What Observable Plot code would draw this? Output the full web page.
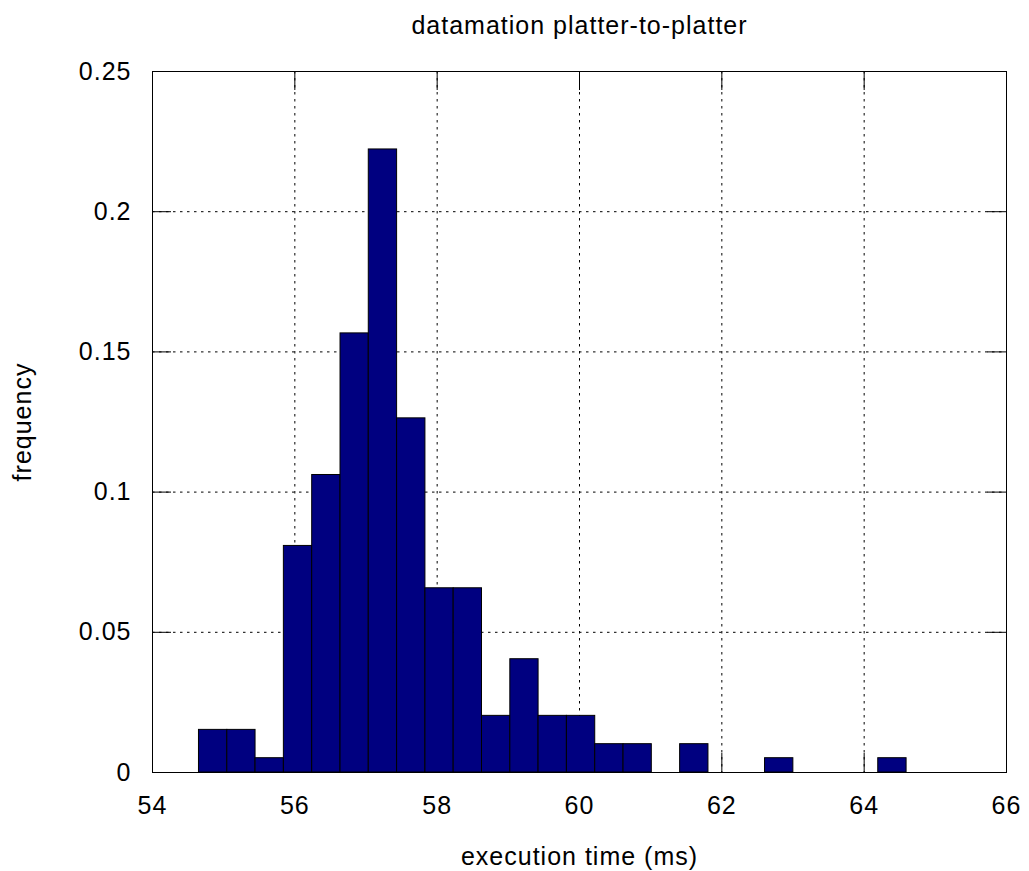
<!DOCTYPE html>
<html><head><meta charset="utf-8">
<script src="https://cdn.jsdelivr.net/npm/d3@7"></script>
<script src="https://cdn.jsdelivr.net/npm/@observablehq/plot@0.6"></script>
<style>
body{margin:0;background:#fff}
svg{display:block}
svg text{letter-spacing:1px}
</style>
</head><body><div id="chart"></div>
<script>
// Histogram bins (execution time in ms) and relative frequency
const binStart = [54.653, 55.051, 55.448, 55.846, 56.244, 56.642, 57.039, 57.437, 57.835, 58.232, 58.630, 59.028, 59.425, 59.823, 60.221, 60.619, 61.414, 62.607, 64.198];
const binEnd   = [55.051, 55.448, 55.846, 56.244, 56.642, 57.039, 57.437, 57.835, 58.232, 58.630, 59.028, 59.425, 59.823, 60.221, 60.619, 61.016, 61.812, 63.005, 64.596];
const frequency = [0.0152, 0.0152, 0.0051, 0.0808, 0.1061, 0.1566, 0.2222, 0.1263, 0.0657, 0.0657, 0.0202, 0.0404, 0.0202, 0.0202, 0.0101, 0.0101, 0.0101, 0.0051, 0.0051];

const xTicks = [54, 56, 58, 60, 62, 64, 66];
const yTicks = [0, 0.05, 0.1, 0.15, 0.2, 0.25];
const xGrid = [56, 58, 60, 62, 64];
const yGrid = [0.05, 0.1, 0.15, 0.2];

const title = "datamation platter-to-platter";
const xLabel = "execution time (ms)";
const yLabel = "frequency";

const bins = binStart.map((s, i) => ({x0: s, x1: binEnd[i], f: frequency[i]}));

const width = 1029, height = 871;
const marginLeft = 152, marginRight = 23, marginTop = 71, marginBottom = 99;
const plotW = width - marginLeft - marginRight;
const plotH = height - marginTop - marginBottom;
const tickLen = 19;
const grid = {stroke: "black", strokeOpacity: 1, strokeWidth: 1, strokeDasharray: "2.5,4.5"};

const chart = Plot.plot({
  width, height, marginLeft, marginRight, marginTop, marginBottom,
  style: {fontFamily: "'Liberation Sans', Helvetica, Arial, sans-serif", fontSize: "25px", background: "white", color: "black"},
  x: {domain: [54, 66]},
  y: {domain: [0, 0.25]},
  marks: [
    Plot.gridX(xGrid, grid),
    Plot.gridY(yGrid, grid),
    Plot.tickX(xTicks, {x: d => d, insetTop: plotH - tickLen, stroke: "black"}),
    Plot.tickX(xTicks, {x: d => d, insetBottom: plotH - tickLen, stroke: "black"}),
    Plot.tickY(yTicks, {y: d => d, insetRight: plotW - tickLen, stroke: "black"}),
    Plot.tickY(yTicks, {y: d => d, insetLeft: plotW - tickLen, stroke: "black"}),
    Plot.rectY(bins, {x1: "x0", x2: "x1", y: "f", fill: "#000080", stroke: "black", strokeWidth: 1}),
    Plot.frame({stroke: "black", strokeWidth: 1}),
    Plot.axisX({ticks: xTicks, tickSize: 0, tickPadding: 24, label: null, tickFormat: d => String(d), fontSize: 25}),
    Plot.axisY({ticks: yTicks, tickSize: 0, tickPadding: 21, label: null, tickFormat: d => String(d), fontSize: 25}),
    Plot.text([title], {text: d => d, frameAnchor: "top", lineAnchor: "bottom", dy: -38, fontSize: 25}),
    Plot.text([xLabel], {text: d => d, frameAnchor: "bottom", lineAnchor: "bottom", dy: 92, fontSize: 25}),
    Plot.text([yLabel], {text: d => d, frameAnchor: "left", textAnchor: "middle", rotate: -90, dx: -129.5, lineAnchor: "middle", fontSize: 25})
  ]
});
document.getElementById("chart").appendChild(chart);
</script>
</body></html>
